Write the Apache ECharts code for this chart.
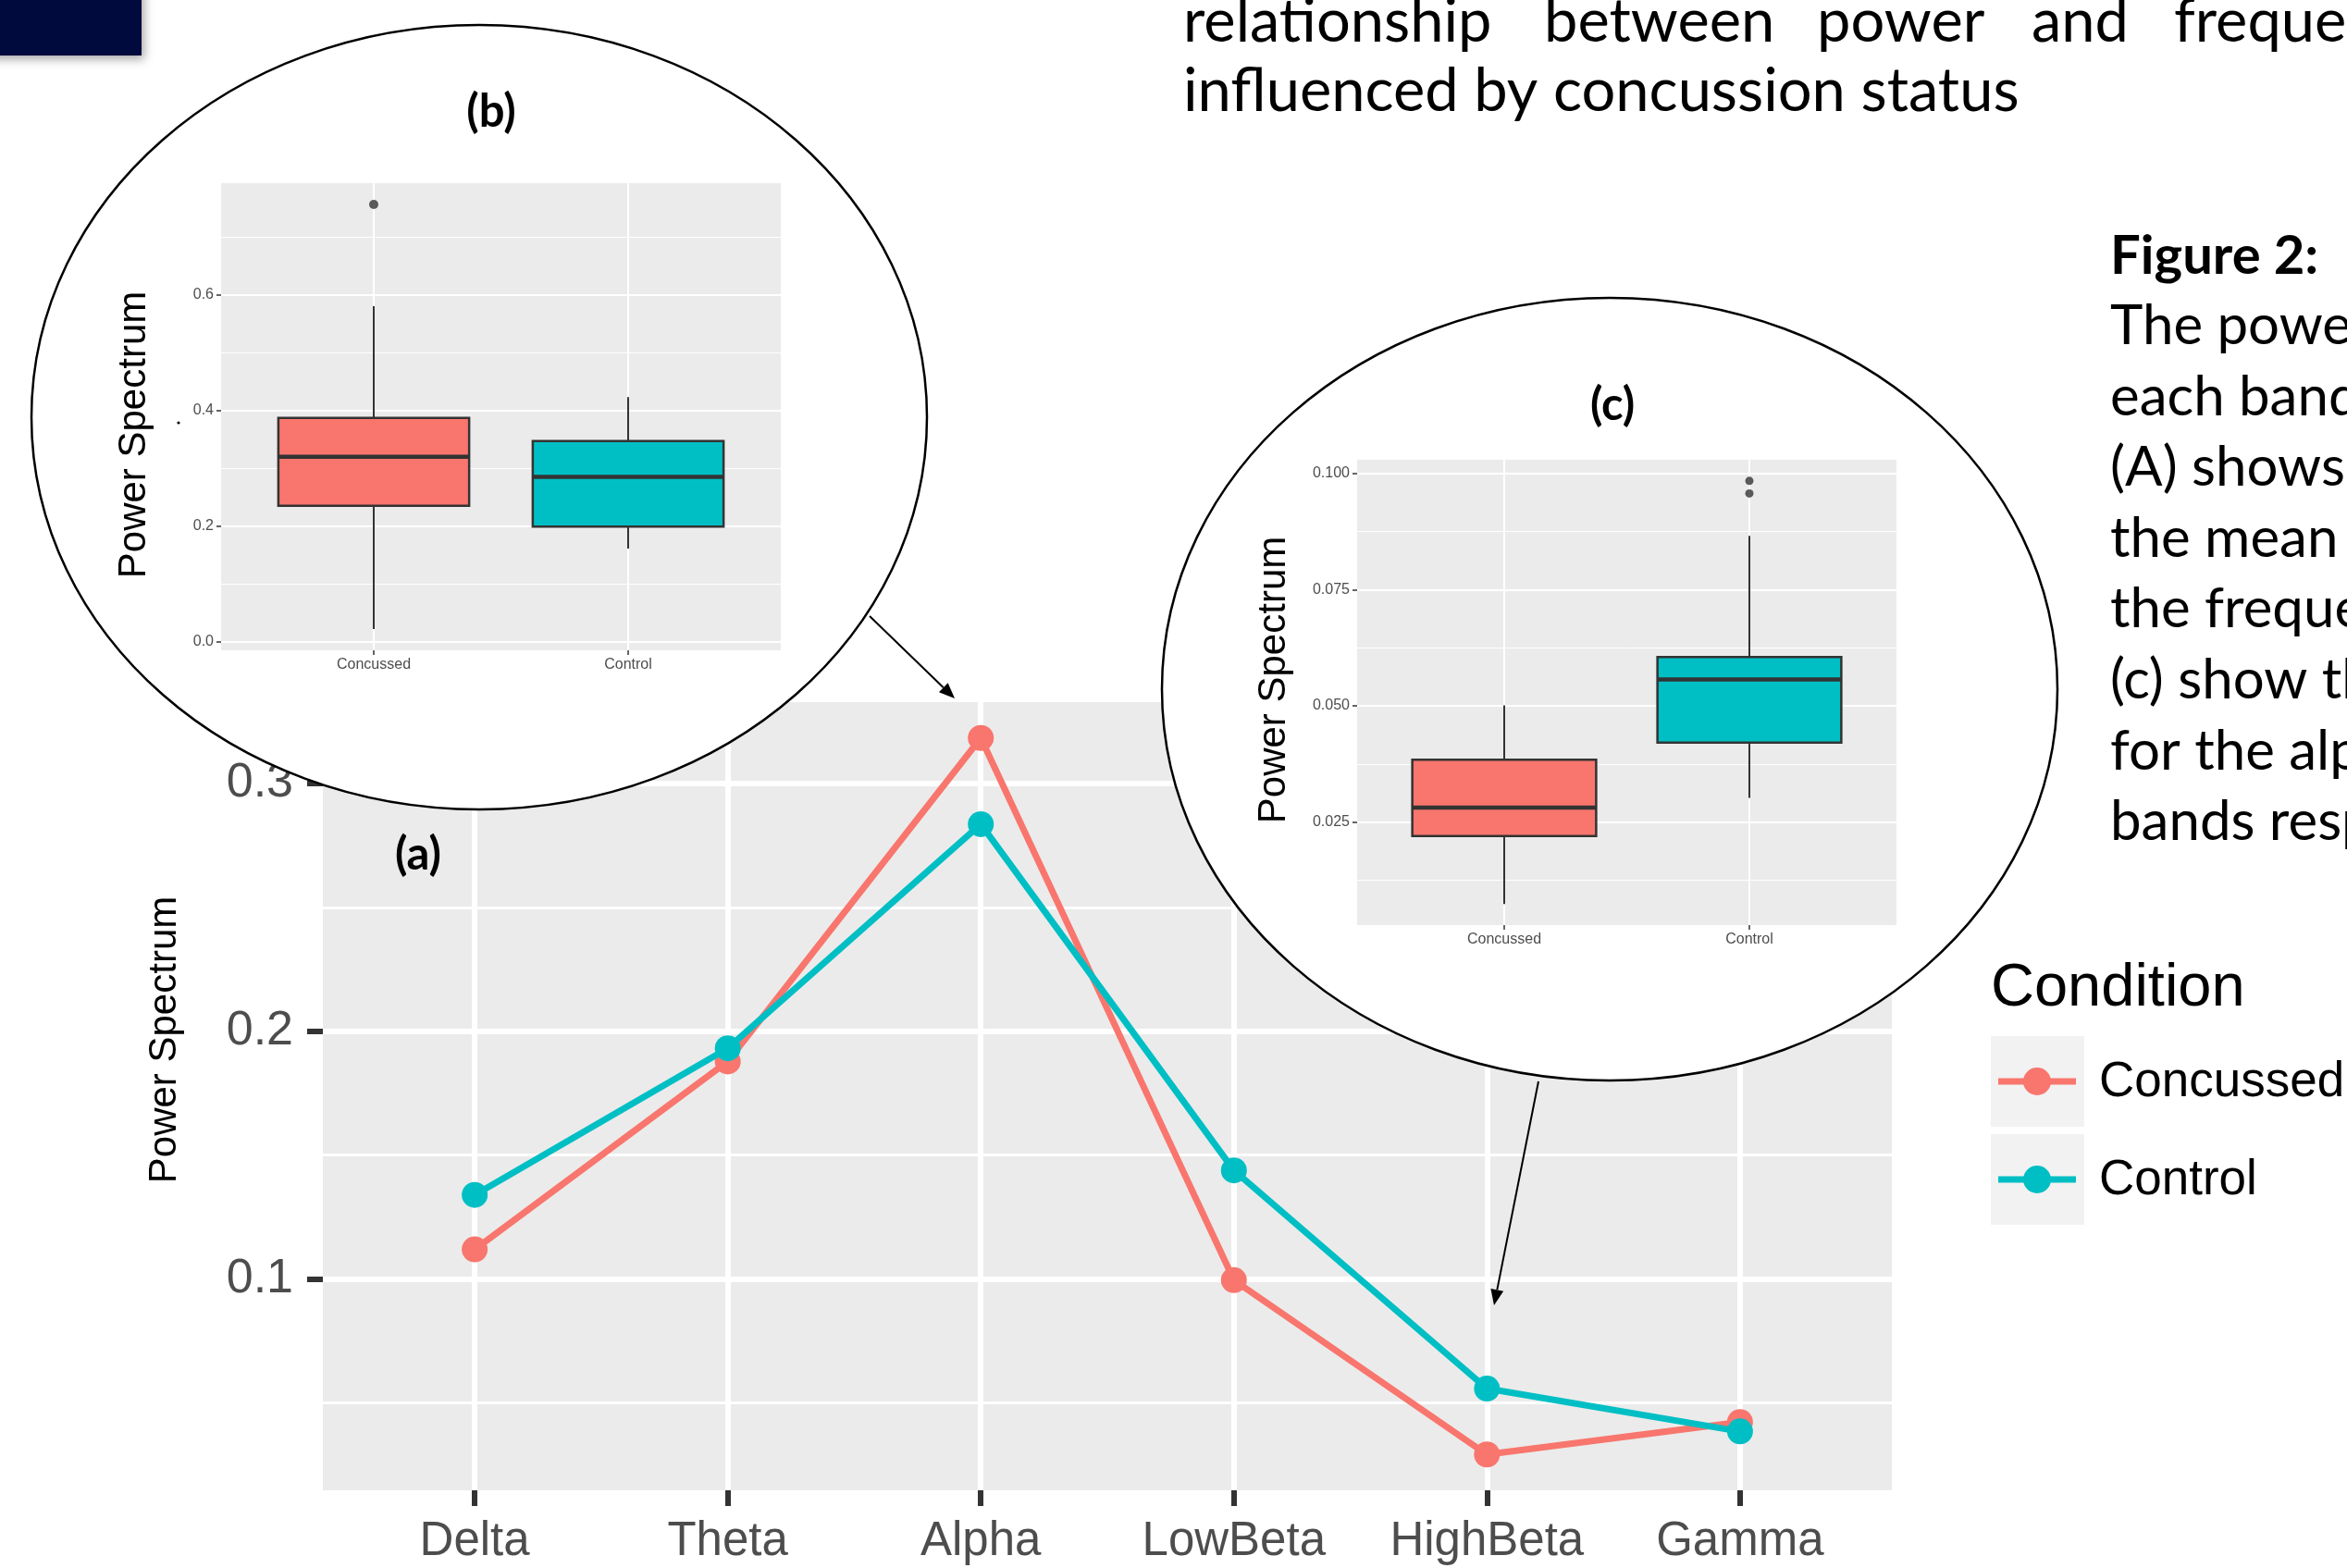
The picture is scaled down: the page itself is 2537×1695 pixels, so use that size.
<!DOCTYPE html>
<html>
<head>
<meta charset="utf-8">
<script src="https://cdn.jsdelivr.net/npm/echarts@6/dist/echarts.min.js"></script>
<style>
  html, body { margin: 0; padding: 0; background: #ffffff; }
  #chart { width: 2537px; height: 1695px; }
</style>
</head>
<body>
<div id="chart"></div>
<script>
// ---- data -------------------------------------------------------------
const bands = ['Delta', 'Theta', 'Alpha', 'LowBeta', 'HighBeta', 'Gamma'];
const concussedMean = [0.1119, 0.1878, 0.3184, 0.0995, 0.0291, 0.0422];
const controlMean   = [0.1339, 0.1931, 0.2836, 0.1438, 0.0557, 0.0384];

const groups = ['Concussed', 'Control'];
const groupColors = ['#F8766D', '#00BFC4'];

// box statistics: [lower whisker, Q1, median, Q3, upper whisker]
const alphaConcussed = [0.022, 0.235, 0.320, 0.387, 0.580];
const alphaControl   = [0.161, 0.199, 0.285, 0.347, 0.423];
const alphaOutliers  = [[0, 0.756]];

const highBetaConcussed = [0.0074, 0.0220, 0.0281, 0.0384, 0.0501];
const highBetaControl   = [0.0302, 0.0421, 0.0557, 0.0605, 0.0866];
const highBetaOutliers  = [[1, 0.0984], [1, 0.0957]];

// axis breaks
const meanTicks = [0.1, 0.2, 0.3];
const meanMinor = [0.05, 0.15, 0.25];
const alphaTicks = [0.0, 0.2, 0.4, 0.6];
const alphaMinor = [0.1, 0.3, 0.5, 0.7];
const highBetaTicks = [0.025, 0.050, 0.075, 0.100];
const highBetaMinor = [0.0125, 0.0375, 0.0625, 0.0875];

// ---- helpers ----------------------------------------------------------
function padRange(values, f) {
  const lo = Math.min(...values), hi = Math.max(...values);
  const d = (hi - lo) * f;
  return [lo - d, hi + d];
}

const meanRange = padRange(concussedMean.concat(controlMean), 0.05);
const alphaRange = padRange(alphaConcussed.concat(alphaControl, alphaOutliers.map(o => o[1])), 0.05);
const highBetaRange = padRange(highBetaConcussed.concat(highBetaControl, highBetaOutliers.map(o => o[1])), 0.05);

const GREY_TEXT = '#4D4D4D';
const SANS = 'Liberation Sans';
const BODY = 'Lato';

const grids = [];
const xAxes = [];
const yAxes = [];
const series = [];

// one ggplot-style panel: grey background, white major/minor grid, outward ticks
function addPanel(box, cats, ticks, minor, range, digits, s) {
  const gi = grids.length;
  grids.push({ left: box.left, top: box.top, width: box.width, height: box.height,
    show: true, backgroundColor: '#EBEBEB', borderWidth: 0, z: s.z, containLabel: false });
  const catIdx = cats.map((_, i) => i);
  xAxes.push({
    gridIndex: gi, type: 'value', position: 'bottom', min: -0.6, max: cats.length - 1 + 0.6, z: s.z,
    axisLine: { show: false, onZero: false },
    axisTick: { show: true, customValues: catIdx, length: s.tickLen, lineStyle: { color: '#333333', width: s.tickW } },
    axisLabel: { customValues: catIdx, formatter: v => cats[Math.round(v)], margin: s.xMargin,
      fontSize: s.xLabel, fontFamily: SANS, color: GREY_TEXT },
    splitLine: { show: true, lineStyle: { color: '#FFFFFF', width: s.majorW } }
  });
  const yi = yAxes.length;
  yAxes.push({
    gridIndex: gi, type: 'value', position: 'left', min: range[0], max: range[1], z: s.z,
    axisLine: { show: false, onZero: false },
    axisTick: { show: true, customValues: ticks, length: s.tickLen, lineStyle: { color: '#333333', width: s.tickW } },
    axisLabel: { customValues: ticks, formatter: v => v.toFixed(digits), margin: s.yMargin,
      fontSize: s.yLabel, fontFamily: SANS, color: GREY_TEXT },
    splitLine: { show: true, lineStyle: { color: '#FFFFFF', width: s.majorW } }
  });
  yAxes.push({
    gridIndex: gi, type: 'value', position: 'left', min: range[0], max: range[1], z: s.z,
    axisLine: { show: false, onZero: false },
    axisTick: { show: false, customValues: minor },
    axisLabel: { show: false, customValues: minor },
    splitLine: { show: true, lineStyle: { color: '#FFFFFF', width: s.minorW } }
  });
  return { xAxisIndex: gi, yAxisIndex: yi };
}

// box plot drawn through the panel scales
function boxRenderer(params, api) {
  const x = api.value(0);
  const lo = api.coord([x, api.value(1)]);
  const q1 = api.coord([x, api.value(2)]);
  const md = api.coord([x, api.value(3)]);
  const q3 = api.coord([x, api.value(4)]);
  const hi = api.coord([x, api.value(5)]);
  const w = api.size([0.75, 0])[0];
  const c = groupColors[params.dataIndex];
  return {
    type: 'group',
    children: [
      { type: 'line', shape: { x1: lo[0], y1: lo[1], x2: q1[0], y2: q1[1] }, style: { stroke: '#333333', lineWidth: 2 } },
      { type: 'line', shape: { x1: q3[0], y1: q3[1], x2: hi[0], y2: hi[1] }, style: { stroke: '#333333', lineWidth: 2 } },
      { type: 'rect', shape: { x: q3[0] - w / 2, y: q3[1], width: w, height: q1[1] - q3[1] },
        style: { fill: c, stroke: '#333333', lineWidth: 2.5 } },
      { type: 'line', shape: { x1: md[0] - w / 2, y1: md[1], x2: md[0] + w / 2, y2: md[1] },
        style: { stroke: '#333333', lineWidth: 4.5 } }
    ]
  };
}

// ---- (a) mean power per band -------------------------------------------
const meanIdx = addPanel({ left: 349, top: 759, width: 1696, height: 852 }, bands,
  meanTicks, meanMinor, meanRange, 1,
  { z: 0, tickLen: 17, tickW: 6, xLabel: 51, yLabel: 52, xMargin: 30, yMargin: 32, majorW: 6, minorW: 3 });

[concussedMean, controlMean].forEach((vals, k) => {
  series.push({
    type: 'line', name: groups[k], xAxisIndex: meanIdx.xAxisIndex, yAxisIndex: meanIdx.yAxisIndex,
    data: vals.map((v, i) => [i, v]), symbol: 'circle', symbolSize: 28, z: 2 + k,
    lineStyle: { color: groupColors[k], width: 7 }, itemStyle: { color: groupColors[k] },
    emphasis: { disabled: true }
  });
});

// ---- (b) alpha band box plot -------------------------------------------
const insetStyle = { z: 10, tickLen: 5, tickW: 1.5, xLabel: 16, yLabel: 16, xMargin: 8, yMargin: 8, majorW: 2, minorW: 1 };
const alphaIdx = addPanel({ left: 239, top: 198, width: 605, height: 505 }, groups,
  alphaTicks, alphaMinor, alphaRange, 1, insetStyle);
series.push({
  type: 'custom', xAxisIndex: alphaIdx.xAxisIndex, yAxisIndex: alphaIdx.yAxisIndex, z: 12,
  renderItem: boxRenderer, encode: { x: 0, y: [1, 2, 3, 4, 5] },
  data: [[0].concat(alphaConcussed), [1].concat(alphaControl)]
});
series.push({
  type: 'scatter', xAxisIndex: alphaIdx.xAxisIndex, yAxisIndex: alphaIdx.yAxisIndex, z: 12,
  data: alphaOutliers, symbolSize: 10, itemStyle: { color: '#333333' }
});

// ---- (c) high beta band box plot ---------------------------------------
const highBetaIdx = addPanel({ left: 1467, top: 497, width: 583, height: 503 }, groups,
  highBetaTicks, highBetaMinor, highBetaRange, 3, insetStyle);
series.push({
  type: 'custom', xAxisIndex: highBetaIdx.xAxisIndex, yAxisIndex: highBetaIdx.yAxisIndex, z: 12,
  renderItem: boxRenderer, encode: { x: 0, y: [1, 2, 3, 4, 5] },
  data: [[0].concat(highBetaConcussed), [1].concat(highBetaControl)]
});
series.push({
  type: 'scatter', xAxisIndex: highBetaIdx.xAxisIndex, yAxisIndex: highBetaIdx.yAxisIndex, z: 12,
  data: highBetaOutliers, symbolSize: 9, itemStyle: { color: '#333333' }
});

// ---- annotation graphics -----------------------------------------------
function txt(x, y, text, size, opts) {
  opts = opts || {};
  return {
    type: 'text', x: x, y: y, rotation: opts.rotation || 0, z: opts.z || 30, silent: true,
    style: {
      text: text, fontSize: size, fontFamily: opts.family || BODY, fontWeight: opts.weight || 'normal',
      fill: opts.color || '#000000',
      align: opts.align || 'left', verticalAlign: opts.vAlign || 'middle',
      textAlign: opts.align || 'left', textVerticalAlign: opts.vAlign || 'middle'
    }
  };
}

function arrow(x1, y1, x2, y2) {
  const a = Math.atan2(y2 - y1, x2 - x1);
  const L = 17, W = 7;
  const bx = x2 - L * Math.cos(a), by = y2 - L * Math.sin(a);
  return [
    { type: 'line', z: 40, silent: true, shape: { x1: x1, y1: y1, x2: bx, y2: by }, style: { stroke: '#000', lineWidth: 2 } },
    { type: 'polygon', z: 40, silent: true,
      shape: { points: [[x2, y2], [bx + W * Math.sin(a), by - W * Math.cos(a)], [bx - W * Math.sin(a), by + W * Math.cos(a)]] },
      style: { fill: '#000' } }
  ];
}

const graphics = [];
// header block
graphics.push({ type: 'rect', z: 30, silent: true, shape: { x: -20, y: -20, width: 173, height: 80 },
  style: { fill: '#000A3C', shadowBlur: 10, shadowOffsetX: 3, shadowOffsetY: 4, shadowColor: 'rgba(0,0,0,0.35)' } });

// lens outlines around the two insets
graphics.push({ type: 'ellipse', z: 5, silent: true, shape: { cx: 518, cy: 451, rx: 484, ry: 424 },
  style: { fill: '#FFFFFF', stroke: '#000000', lineWidth: 2.5 } });
graphics.push({ type: 'ellipse', z: 5, silent: true, shape: { cx: 1740, cy: 745, rx: 484, ry: 423 },
  style: { fill: '#FFFFFF', stroke: '#000000', lineWidth: 2.5 } });
graphics.push({ type: 'circle', z: 30, silent: true, shape: { cx: 193, cy: 457, r: 1.6 }, style: { fill: '#000' } });

graphics.push(...arrow(940, 666, 1032, 755));
graphics.push(...arrow(1663, 1169, 1615, 1411));

// panel letters
graphics.push(txt(452, 924, '(a)', 49, { weight: 'bold', align: 'center' }));
graphics.push(txt(531, 121, '(b)', 49, { weight: 'bold', align: 'center' }));
graphics.push(txt(1743, 438, '(c)', 49, { weight: 'bold', align: 'center' }));

// axis titles
graphics.push(txt(178, 1124, 'Power Spectrum', 42, { family: SANS, align: 'center', rotation: Math.PI / 2 }));
graphics.push(txt(145, 470, 'Power Spectrum', 42, { family: SANS, align: 'center', rotation: Math.PI / 2 }));
graphics.push(txt(1377, 735, 'Power Spectrum', 42, { family: SANS, align: 'center', rotation: Math.PI / 2 }));

// legend
graphics.push(txt(2152, 1069, 'Condition', 65, { family: SANS }));
groups.forEach((g, k) => {
  const top = 1120 + k * 106;
  const cy = top + 49;
  graphics.push({ type: 'rect', z: 30, silent: true, shape: { x: 2152, y: top, width: 101, height: 98 }, style: { fill: '#F2F2F2' } });
  graphics.push({ type: 'line', z: 31, silent: true, shape: { x1: 2160, y1: cy, x2: 2244, y2: cy }, style: { stroke: groupColors[k], lineWidth: 7 } });
  graphics.push({ type: 'circle', z: 32, silent: true, shape: { cx: 2202, cy: cy, r: 15 }, style: { fill: groupColors[k] } });
  graphics.push(txt(2269, cy + 1, g, 53, { family: SANS }));
});

// body text
const headWords = [['relationship', 1279], ['between', 1669], ['power', 1964], ['and', 2196], ['frequency', 2350]];
headWords.forEach(w => graphics.push(txt(w[1], 57, w[0], 65, { vAlign: 'bottom' })));
graphics.push(txt(1279, 132, 'influenced by concussion status', 65, { vAlign: 'bottom' }));

graphics.push(txt(2281, 306, 'Figure 2:', 58, { weight: 'bold', vAlign: 'bottom' }));
const captionLines = ['The power', 'each band', '(A) shows', 'the mean', 'the frequency', '(c) show the', 'for the alpha', 'bands respectively'];
captionLines.forEach((l, i) => graphics.push(txt(2281, 306 + (i + 1) * 76.6, l, 60, { vAlign: 'bottom' })));

const chart = echarts.init(document.getElementById('chart'), null, { renderer: 'canvas' });
chart.setOption({
  animation: false,
  backgroundColor: '#FFFFFF',
  grid: grids,
  xAxis: xAxes,
  yAxis: yAxes,
  series: series,
  graphic: { elements: graphics }
});
</script>
</body>
</html>
